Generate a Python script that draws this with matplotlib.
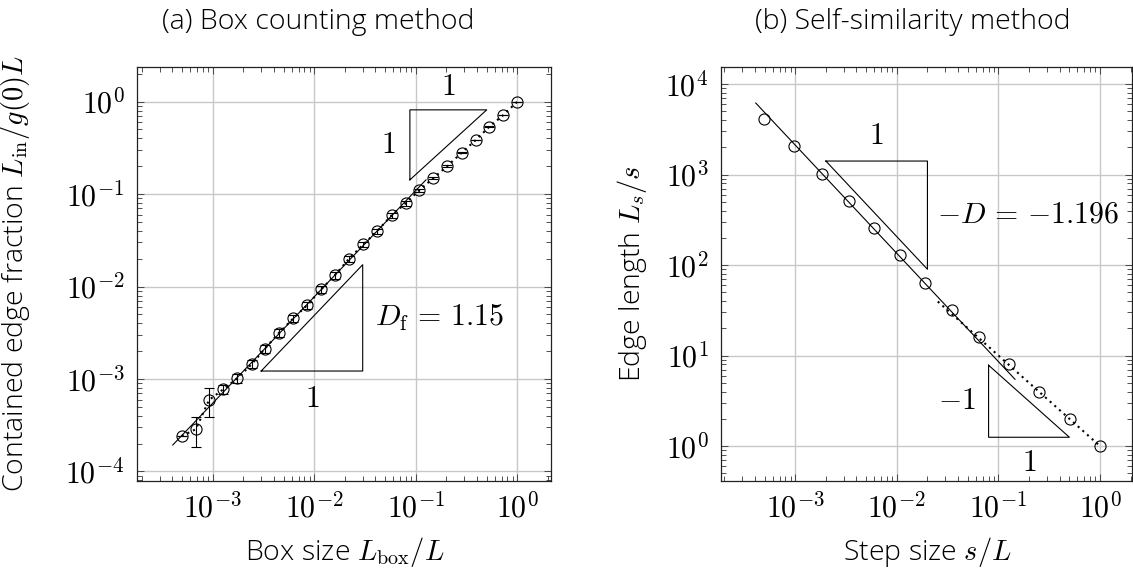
import numpy as np
import matplotlib
matplotlib.use('Agg')
import matplotlib.pyplot as plt
from matplotlib.ticker import LogLocator, FuncFormatter, NullFormatter

plt.rcParams['mathtext.fontset'] = 'cm'
plt.rcParams['font.family'] = ['Open Sans', 'DejaVu Sans']
plt.rcParams['font.weight'] = 'light'

# (a) box counting: box size vs. contained edge fraction
box_size = [4.95e-4, 6.81e-4, 9.20e-4, 1.27e-3, 1.75e-3, 2.42e-3, 3.27e-3, 4.50e-3,
            6.22e-3, 8.55e-3, 1.17e-2, 1.60e-2, 2.20e-2, 3.05e-2, 4.16e-2, 5.81e-2,
            7.94e-2, 0.108, 0.149, 0.205, 0.284, 0.390, 0.531, 0.730, 1.0]
edge_frac = [2.42e-4, 2.86e-4, 5.93e-4, 7.74e-4, 1.02e-3, 1.45e-3, 2.13e-3, 3.16e-3,
             4.53e-3, 6.31e-3, 9.33e-3, 1.33e-2, 2.00e-2, 2.86e-2, 3.98e-2, 5.93e-2,
             7.94e-2, 0.110, 0.149, 0.202, 0.281, 0.385, 0.537, 0.718, 1.0]
edge_frac_err = [0.0, 1.0e-4, 2.0e-4, 0.9e-4, 1.1e-4, 1.5e-4, 2.1e-4, 3.0e-4,
                 4.2e-4, 5.6e-4, 8.0e-4, 1.1e-3, 1.5e-3, 2.0e-3, 2.6e-3, 3.5e-3,
                 4.2e-3, 5.0e-3, 5.0e-3, 5.0e-3, 5.0e-3, 4.0e-3, 3.0e-3, 2.0e-3, 0.0]
df_slope = 1.15
df_prefactor = 1.545
df_fit_range = [4.04e-4, 0.126]

# (b) self-similarity: step size vs. measured edge length
step_size = [4.95e-4, 9.70e-4, 1.83e-3, 3.35e-3, 5.98e-3, 1.07e-2, 1.89e-2, 3.46e-2,
             6.38e-2, 0.127, 0.251, 0.507, 1.0]
edge_length = [4096, 2048, 1024, 512, 256, 128, 64, 32, 16, 8, 4, 2, 1]
d_slope = 1.196
d_prefactor = 0.545
d_fit_range = [4.08e-4, 0.1456]
ref_range = [0.0253, 1.0]   # slope -1 reference

fig = plt.figure(figsize=(11.33, 5.75), dpi=100)
ax1 = fig.add_axes([137 / 1133, 94.3 / 575, 414 / 1133, 413.7 / 575])
ax2 = fig.add_axes([721 / 1133, 94.3 / 575, 411.3 / 1133, 413.7 / 575])

math_size = 21.5
lab = 20.5
dots = (0, (1, 2))


def style_axis(ax):
    ax.set_xscale('log')
    ax.set_yscale('log')
    for axis in (ax.xaxis, ax.yaxis):
        axis.set_major_locator(LogLocator(base=10, numticks=20))
        axis.set_minor_locator(LogLocator(base=10, subs=np.arange(2, 10), numticks=20))
        axis.set_major_formatter(FuncFormatter(lambda v, p: r'$10^{%d}$' % round(np.log10(v))))
        axis.set_minor_formatter(NullFormatter())
    ax.tick_params(which='both', direction='in', top=True, right=True,
                   width=0.6, color='#333333', labelsize=math_size, pad=9)
    ax.tick_params(which='major', length=5)
    ax.tick_params(which='minor', length=3.3)
    ax.grid(True, which='major', color='#c8c8c8', lw=1.0)
    ax.set_axisbelow(True)
    for s in ax.spines.values():
        s.set_linewidth(0.9)
        s.set_color('#222222')


def tri(ax, xs, ys):
    ax.plot(list(xs) + [xs[0]], list(ys) + [ys[0]], color='k', lw=0.8)


def note(ax, text, xy, off, ha, va):
    ax.annotate(text, xy=xy, xytext=off, textcoords='offset points',
                ha=ha, va=va, fontsize=math_size)


# ---- (a) ----
style_axis(ax1)
ax1.set_xlim(10 ** -3.746, 10 ** 0.332)
ax1.set_ylim(10 ** -4.10, 10 ** 0.375)

xf = np.geomspace(df_fit_range[0], df_fit_range[1], 50)
ax1.plot(xf, df_prefactor * xf ** df_slope, color='k', lw=0.8)
ax1.errorbar(box_size, edge_frac, yerr=edge_frac_err, fmt='o', ls=dots, color='k',
             mfc='none', ms=8, mew=0.8, lw=1.5, elinewidth=0.8, capsize=3.6, capthick=0.8)

# slope-1 triangle
x0, x1, yb = 0.0875, 0.5, 0.1427
yt = yb * (x1 / x0)
tri(ax1, [x0, x0, x1], [yb, yt, yt])
note(ax1, r'$1$', (np.sqrt(x0 * x1), yt), (0, 6), 'center', 'bottom')
note(ax1, r'$1$', (x0, np.sqrt(yb * yt)), (-10, 0), 'right', 'center')

# D_f triangle
x0, x1, yb = 3.0e-3, 3.0e-2, 1.22e-3
yt = yb * (x1 / x0) ** df_slope
tri(ax1, [x0, x1, x1], [yb, yb, yt])
note(ax1, r'$1$', (np.sqrt(x0 * x1), yb), (0, -10), 'center', 'top')
note(ax1, r'$D_\mathrm{f} \,=\, %s$' % df_slope, (x1, np.sqrt(yb * yt)), (9, 0), 'left', 'center')

# ---- (b) ----
style_axis(ax2)
ax2.set_xlim(10 ** -3.7315, 10 ** 0.318)
ax2.set_ylim(10 ** -0.383, 10 ** 4.188)

xf = np.geomspace(d_fit_range[0], d_fit_range[1], 50)
ax2.plot(xf, d_prefactor * xf ** -d_slope, color='k', lw=0.8)
xr = np.geomspace(ref_range[0], ref_range[1], 50)
ax2.plot(xr, 1.0 / xr, color='k', ls=dots, lw=1.5)
ax2.plot(step_size, edge_length, 'o', color='k', mfc='none', ms=8, mew=0.8)

# -D triangle
x0, x1, yt = 2.0e-3, 2.0e-2, 1409
yb = yt * (x1 / x0) ** -d_slope
tri(ax2, [x0, x1, x1], [yt, yt, yb])
note(ax2, r'$1$', (np.sqrt(x0 * x1), yt), (0, 7), 'center', 'bottom')
note(ax2, r'$-D \,=\, {-}%s$' % d_slope, (x1, np.sqrt(yb * yt)), (7, 0), 'left', 'center')

# slope -1 triangle
x0, x1, yb = 0.08, 0.5, 1.25
yt = yb * (x1 / x0)
tri(ax2, [x0, x0, x1], [yt, yb, yb])
note(ax2, r'$-1$', (x0, np.sqrt(yb * yt)), (-9, 0), 'right', 'center')
note(ax2, r'$1$', (np.sqrt(x0 * x1), yb), (0, -8), 'center', 'top')

# labels and titles
fig.text(345 / 1133, 15 / 575, r'Box size $L_\mathrm{box}/L$', ha='center', va='baseline', fontsize=lab)
fig.text(927 / 1133, 15 / 575, r'Step size $s/L$', ha='center', va='baseline', fontsize=lab)
fig.text(23 / 1133, 0.5 * (94.3 + 508) / 575, r'Contained edge fraction $L_\mathrm{in}/g(0)L$',
         rotation=90, rotation_mode='anchor', ha='center', va='baseline', fontsize=lab)
fig.text(640 / 1133, 0.5 * (94.3 + 508) / 575, r'Edge length $L_s/s$',
         rotation=90, rotation_mode='anchor', ha='center', va='baseline', fontsize=lab)
fig.text(318 / 1133, (575 - 29) / 575, '(a) Box counting method', ha='center', va='baseline', fontsize=lab)
fig.text(913 / 1133, (575 - 29) / 575, '(b) Self-similarity method', ha='center', va='baseline', fontsize=lab)

fig.savefig('out.png', dpi=100)
